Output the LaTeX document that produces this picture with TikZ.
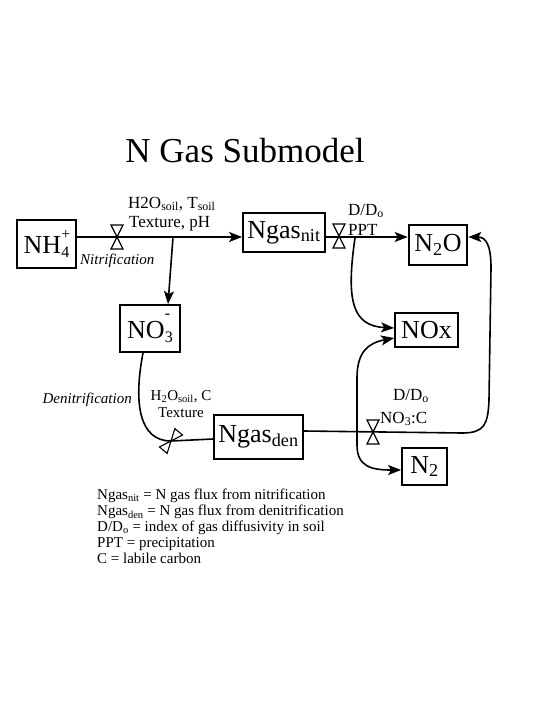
\documentclass[tikz,border=0pt]{standalone}
\usepackage{fontspec}
\setmainfont{Liberation Serif}
\usetikzlibrary{arrows.meta}
\newcommand{\mysupsub}[3]{\makebox[0pt][l]{\raisebox{#3}{\fontsize{16}{16}\selectfont #1}}\raisebox{-4.5pt}{\fontsize{16}{16}\selectfont #2}}
\tikzset{
  box/.style={draw, line width=1.8pt, inner sep=0pt, font=\fontsize{26}{28}\selectfont},
  conn/.style={line width=1.6pt, -{Stealth[length=13pt,width=10pt,inset=3pt]}},
  conntwo/.style={line width=1.6pt, {Stealth[length=13pt,width=10pt,inset=3pt]}-{Stealth[length=13pt,width=10pt,inset=3pt]}},
  plain/.style={line width=1.6pt},
  lbl/.style={inner sep=0pt, font=\fontsize{17}{19}\selectfont},
  slbl/.style={inner sep=0pt, font=\fontsize{15}{17}\selectfont},
  ilbl/.style={inner sep=0pt, font=\fontsize{15}{17}\selectfont\itshape},
  valvepic/.pic={\draw[line width=1.3pt, fill=white] (-6,-12)--(6,-12)--(0,0)--cycle (0,0)--(-6,12)--(6,12)--cycle;},
  smallvalve/.pic={\draw[line width=1.1pt, fill=white] (-5,-12)--(5,-12)--(0,0)--cycle (0,0)--(-5,12)--(5,12)--cycle;}
}
\begin{document}
\begin{tikzpicture}[x=1pt,y=-1pt]
\useasboundingbox (0,0) rectangle (540,720);
% title
\node[inner sep=0pt, anchor=base, font=\fontsize{35}{40}\selectfont] (title) at (245,162) {N Gas Submodel};
% boxes
\node[box, minimum width=59pt, minimum height=48pt] (nh4) at (46.5,244) {NH\mysupsub{+}{4}{14pt}};
\node[box, minimum width=60pt, minimum height=47pt] (no3) at (150,328.5) {NO\mysupsub{-}{3}{20pt}};
\node[box, minimum width=82pt, minimum height=39pt] (ngn) at (284,232.5) {Ngas\textsubscript{nit}};
\node[box, line width=2.6pt, minimum width=58pt, minimum height=40pt] (n2o) at (438,245) {N\textsubscript{2}O};
\node[box, minimum width=63pt, minimum height=34pt] (nox) at (426.5,330) {NOx};
\node[box, minimum width=45pt, minimum height=37pt] (n2) at (424.5,466.5) {N\textsubscript{2}};
\node[box, minimum width=89pt, minimum height=44pt] (ngd) at (258.5,437) {Ngas\textsubscript{den}};
% connectors
\coordinate (br) at (173,237);
\coordinate (sp) at (355,238);
\coordinate (dd) at (171,441);
\draw[conn] (nh4.east |- 0,237) -- (ngn.west |- 0,237);
\draw[conn] (br) -- (no3.north -| 168,0);
\draw[conn] (ngn.east |- 0,237) -- (n2o.west |- 0,237);
\draw[conn] (sp) .. controls (346,300) and (352,326) .. (nox.west |- 0,328);
\draw[conn] (ngd.east |- 0,431) -- (462,433) .. controls (484,433) and (488,425) .. (489,400) -- (491,268) .. controls (491,245) and (486,237) .. (n2o.east |- 0,237);
\draw[conntwo] (nox.west |- 0,338) .. controls (368,343) and (357,352) .. (357,378) -- (357,445) .. controls (357,467) and (372,470) .. (n2.west |- 0,470);
\draw[plain] (no3.south -| 143,0) .. controls (133,405) and (140,441) .. (dd) -- (ngd.west |- 0,439);
% valves
\pic at (117,237) {valvepic};
\pic at (339,236) {valvepic};
\pic at (373,432) {valvepic};
\pic[rotate=-40] at (dd) {smallvalve};
% labels
\node[lbl, anchor=base west] (l1) at (128,208) {H2O\textsubscript{soil}, T\textsubscript{soil}};
\node[lbl, anchor=base west] (l2) at (129,227) {Texture, pH};
\node[ilbl, anchor=base west] (nitr) at (80,264) {Nitrification};
\node[lbl, anchor=base west] (dd1) at (348,215) {D/D\textsubscript{o}};
\node[lbl, anchor=base west] (ppt) at (348,235) {PPT};
\node[slbl, anchor=base] (l3) at (181,400) {H\textsubscript{2}O\textsubscript{soil}, C};
\node[slbl, anchor=base] (l4) at (181,417) {Texture};
\node[ilbl, anchor=base east] (denitr) at (132,403) {Denitrification};
\node[lbl, anchor=base west] (dd2) at (393,400) {D/D\textsubscript{o}};
\node[lbl, anchor=base west] (no3c) at (380,423) {NO\textsubscript{3}:C};
% legend
\node[inner sep=0pt, anchor=north west, align=left, font=\fontsize{15}{16}\selectfont] (legend) at (97,489) {Ngas\textsubscript{nit} = N gas flux from nitrification\\Ngas\textsubscript{den} = N gas flux from denitrification\\D/D\textsubscript{o} = index of gas diffusivity in soil\\PPT = precipitation\\C = labile carbon};
\end{tikzpicture}
\end{document}
